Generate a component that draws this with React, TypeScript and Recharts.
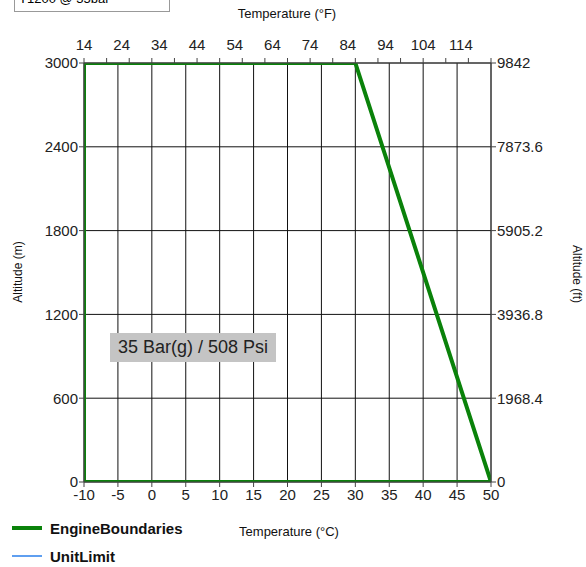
import React from "react";
import {
  LineChart,
  Line,
  XAxis,
  YAxis,
  CartesianGrid,
  Legend,
} from "recharts";

// engine envelope, traced in order (°C, m)
const boundaryTempC = [-10, -10, 30, 50, -10];
const boundaryAltM = [0, 3000, 3000, 0, 0];

const celsiusTicks = [-10, -5, 0, 5, 10, 15, 20, 25, 30, 35, 40, 45, 50];
const fahrenheitLabels = [14, 24, 34, 44, 54, 64, 74, 84, 94, 104, 114];
const fahrenheitMarks = [14, 20, 26, 32, 38, 44, 50, 56, 62, 68, 74, 80, 86, 92, 98, 104, 110, 116, 122];
const meterTicks = [0, 600, 1200, 1800, 2400, 3000];
const feetTicks = [0, 1968.4, 3936.8, 5905.2, 7873.6, 9842];

const data = boundaryTempC.map((c, i) => ({ c, engine: boundaryAltM[i] }));

const font = "'Liberation Sans', Arial, sans-serif";
const tickStyle = { fontFamily: font, fontSize: 15, fill: "#222" };
const axisColor = "#444";

const allTopTicks = Array.from(new Set([...fahrenheitLabels, ...fahrenheitMarks])).sort((a, b) => a - b);

function TopTick(props: any) {
  const { x, y, payload } = props;
  const v = payload.value;
  return (
    <g>
      {fahrenheitMarks.includes(v) && (
        <line x1={x} x2={x} y1={y + 13} y2={y + 8} stroke={axisColor} />
      )}
      {fahrenheitLabels.includes(v) && (
        <text x={x} y={y} textAnchor="middle" {...tickStyle}>
          {v}
        </text>
      )}
    </g>
  );
}

function LegendBox() {
  const row = (color: string, width: number, label: string) => (
    <div style={{ display: "flex", alignItems: "center", height: 28 }}>
      <div style={{ width: 30, height: width, background: color, marginRight: 8 }} />
      <span style={{ fontFamily: font, fontSize: 15, fontWeight: "bold", color: "#111" }}>{label}</span>
    </div>
  );
  return (
    <div>
      {row("#0a820a", 4, "EngineBoundaries")}
      {row("#5f9ff0", 2, "UnitLimit")}
    </div>
  );
}

export default function App() {
  return (
    <div style={{ position: "absolute", left: 0, top: 0, width: 586, height: 567, overflow: "hidden", background: "#fff" }}>
      <div
        style={{
          position: "absolute",
          left: 14,
          top: -12,
          width: 156,
          height: 24,
          border: "1px solid #999",
          fontFamily: font,
          fontSize: 13,
          paddingLeft: 4,
          lineHeight: "20px",
          boxSizing: "border-box",
        }}
      >
        T1200 @ 35bar
      </div>
      <div style={{ position: "absolute", left: 0, width: 574, top: 6, textAlign: "center", fontFamily: font, fontSize: 13, color: "#111" }}>
        Temperature (°F)
      </div>
      <div style={{ position: "absolute", left: 0, width: 578, top: 524, textAlign: "center", fontFamily: font, fontSize: 13, color: "#111" }}>
        Temperature (°C)
      </div>
      <div style={{ position: "absolute", left: 18, top: 272, transform: "translate(-50%, -50%) rotate(-90deg)", whiteSpace: "nowrap", fontFamily: font, fontSize: 12, color: "#111" }}>
        Altitude (m)
      </div>
      <div style={{ position: "absolute", left: 577, top: 274, transform: "translate(-50%, -50%) rotate(90deg)", whiteSpace: "nowrap", fontFamily: font, fontSize: 12, color: "#111" }}>
        Altitude (ft)
      </div>

      <LineChart width={586} height={567} data={data} margin={{ top: 23, right: 15, bottom: 55, left: 40 }}>
        <CartesianGrid xAxisId="c" yAxisId="m" stroke="#111" strokeWidth={1} />
        <XAxis
          xAxisId="c"
          dataKey="c"
          type="number"
          domain={[-10, 50]}
          ticks={celsiusTicks}
          interval={0}
          height={30}
          tick={tickStyle}
          tickSize={5}
          tickMargin={2}
          stroke={axisColor}
          allowDataOverflow
        />
        <XAxis
          xAxisId="f"
          orientation="top"
          dataKey="f"
          type="number"
          domain={[14, 122]}
          ticks={allTopTicks}
          interval={0}
          height={40}
          tick={<TopTick />}
          tickLine={false}
          tickSize={5}
          tickMargin={8}
          stroke={axisColor}
          allowDataOverflow
        />
        <YAxis
          yAxisId="m"
          domain={[0, 3000]}
          ticks={meterTicks}
          interval={0}
          width={44}
          tick={tickStyle}
          tickSize={5}
          tickMargin={1}
          stroke={axisColor}
          allowDataOverflow
        />
        <YAxis
          yAxisId="ft"
          orientation="right"
          domain={[0, 9842]}
          ticks={feetTicks}
          interval={0}
          width={80}
          tick={tickStyle}
          tickSize={5}
          tickMargin={1}
          stroke={axisColor}
          allowDataOverflow
        />
        <Line
          xAxisId="f"
          yAxisId="ft"
          dataKey="unitLimit"
          name="UnitLimit"
          stroke="#5f9ff0"
          strokeWidth={2}
          dot={false}
          isAnimationActive={false}
        />
        <Line
          xAxisId="c"
          yAxisId="m"
          dataKey="engine"
          name="EngineBoundaries"
          stroke="#0a820a"
          strokeWidth={4}
          dot={false}
          isAnimationActive={false}
        />
        <Legend
          layout="horizontal"
          verticalAlign="middle"
          align="center"
          content={<LegendBox />}
          wrapperStyle={{ position: "absolute", left: 12, top: 514, width: 220 }}
        />
      </LineChart>

      <div
        style={{
          position: "absolute",
          left: 110,
          top: 333,
          width: 166,
          height: 29,
          background: "#c4c4c4",
          fontFamily: font,
          fontSize: 18,
          color: "#222",
          lineHeight: "29px",
          textAlign: "center",
        }}
      >
        35 Bar(g) / 508 Psi
      </div>
    </div>
  );
}
